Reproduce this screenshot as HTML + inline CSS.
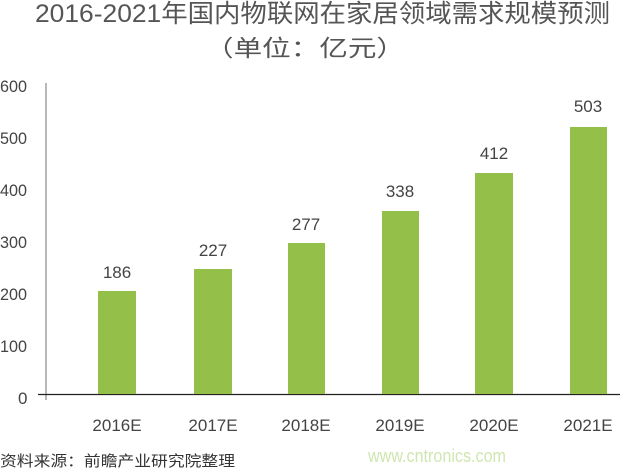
<!DOCTYPE html>
<html><head><meta charset="utf-8"><style>
body{margin:0;width:620px;height:471px;background:#fff;overflow:hidden;font-family:"Liberation Sans","Noto Sans CJK SC",sans-serif;}
</style></head><body>
<svg width="620" height="471" xmlns="http://www.w3.org/2000/svg" style="font-family:'Liberation Sans','Noto Sans CJK SC',sans-serif">
<text x="35" y="22" font-size="25" fill="#555" textLength="575" lengthAdjust="spacingAndGlyphs">2016-2021年国内物联网在家居领域需求规模预测</text>
<text x="205" y="56" font-size="23" fill="#555" textLength="200" lengthAdjust="spacingAndGlyphs">（单位：亿元）</text>
<g font-size="17" fill="#444" text-anchor="start">
<text x="0" y="92" textLength="27" lengthAdjust="spacingAndGlyphs">600</text>
<text x="0" y="144" textLength="27" lengthAdjust="spacingAndGlyphs">500</text>
<text x="0" y="196" textLength="27" lengthAdjust="spacingAndGlyphs">400</text>
<text x="0" y="248" textLength="27" lengthAdjust="spacingAndGlyphs">300</text>
<text x="0" y="300" textLength="27" lengthAdjust="spacingAndGlyphs">200</text>
<text x="0" y="352" textLength="27" lengthAdjust="spacingAndGlyphs">100</text>
<text x="18" y="404">0</text>
</g>
<line x1="46" y1="83" x2="46" y2="400" stroke="#888" stroke-width="1.2"/>
<line x1="38" y1="394.5" x2="620" y2="394.5" stroke="#222" stroke-width="1.2"/>
<g fill="#94c049">
<rect x="98" y="291" width="38" height="103"/>
<rect x="194" y="269" width="38" height="125"/>
<rect x="288" y="243" width="37" height="151"/>
<rect x="382" y="211" width="37" height="183"/>
<rect x="475" y="173" width="38" height="221"/>
<rect x="570" y="127" width="37" height="267"/>
</g>
<g font-size="17" fill="#444" text-anchor="middle">
<text x="117" y="278">186</text><text x="213" y="256">227</text><text x="306" y="230">277</text>
<text x="400" y="197">338</text><text x="494" y="159">412</text><text x="588" y="112">503</text>
</g>
<g font-size="17" fill="#444" text-anchor="middle">
<text x="117" y="431">2016E</text><text x="213" y="431">2017E</text><text x="306" y="431">2018E</text>
<text x="400" y="431">2019E</text><text x="494" y="431">2020E</text><text x="588" y="431">2021E</text>
</g>
<text x="0" y="466" font-size="15" fill="#333" textLength="235" lengthAdjust="spacingAndGlyphs">资料来源：前瞻产业研究院整理</text>
<text x="368" y="462" font-size="18" fill="#cfe6b0" textLength="138" lengthAdjust="spacingAndGlyphs">www.cntronics.com</text>
</svg>
</body></html>
